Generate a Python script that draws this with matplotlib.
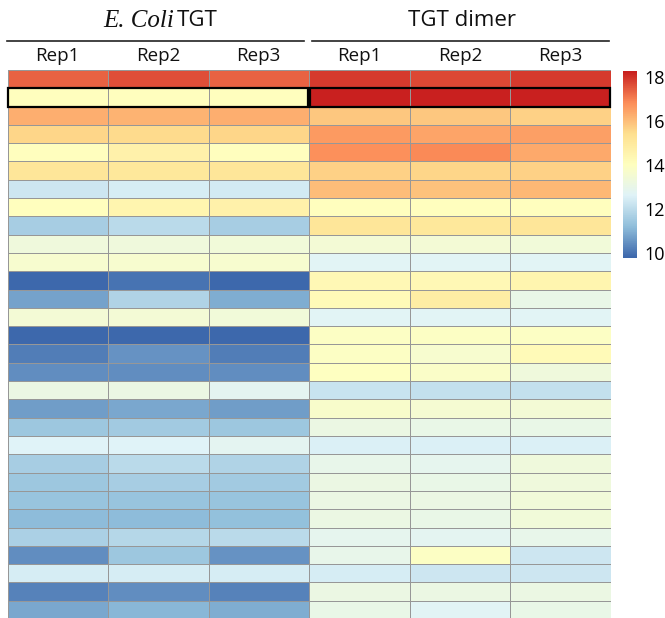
import numpy as np
import matplotlib
matplotlib.use('Agg')
import matplotlib.pyplot as plt
from matplotlib.colors import LinearSegmentedColormap
from matplotlib.patches import Rectangle
from matplotlib.lines import Line2D

plt.rcParams['font.family'] = ['Open Sans', 'DejaVu Sans']

# ── data: log2 signal per protein, three replicates each ──
reps = ['Rep1', 'Rep2', 'Rep3']
groups = ['E. Coli', 'TGT dimer']

ecoli = [
    [17.4, 17.6, 17.4],
    [14.1, 14.1, 14.1],
    [16.3, 16.2, 16.3],
    [15.6, 15.5, 15.6],
    [14.1, 14.7, 14.1],
    [15.15, 15.05, 15.15],
    [12.3, 12.45, 12.35],
    [14.1, 14.5, 14.65],
    [11.63, 11.9, 11.6],
    [13.3, 13.3, 13.35],
    [13.6, 13.6, 13.6],
    [9.8, 10.0, 9.78],
    [10.76, 11.74, 10.9],
    [13.5, 13.5, 13.4],
    [9.78, 9.85, 9.77],
    [10.17, 10.46, 10.15],
    [10.45, 10.45, 10.45],
    [13.1, 13.1, 12.8],
    [10.7, 10.85, 10.7],
    [11.45, 11.5, 11.4],
    [12.65, 12.65, 12.75],
    [11.6, 11.9, 11.75],
    [11.45, 11.6, 11.5],
    [11.3, 11.3, 11.35],
    [11.2, 11.15, 11.25],
    [11.65, 11.85, 11.9],
    [10.45, 11.45, 10.5],
    [12.45, 12.45, 12.45],
    [10.25, 10.45, 10.25],
    [10.8, 11.1, 10.9],
]

dimer = [
    [17.85, 17.75, 17.85],
    [18.27, 18.2, 18.25],
    [15.85, 15.85, 15.7],
    [16.6, 16.45, 16.5],
    [16.75, 16.9, 16.4],
    [15.7, 15.55, 15.65],
    [16.0, 15.95, 16.1],
    [14.05, 14.05, 14.05],
    [15.2, 15.1, 15.2],
    [13.5, 13.5, 13.35],
    [12.7, 12.7, 12.7],
    [14.3, 14.3, 14.5],
    [14.2, 14.85, 13.0],
    [12.7, 12.7, 12.7],
    [13.85, 13.85, 13.85],
    [13.85, 13.6, 14.2],
    [14.0, 13.8, 13.3],
    [12.17, 12.1, 12.1],
    [13.75, 13.55, 13.45],
    [13.15, 13.05, 13.05],
    [12.5, 12.5, 12.5],
    [12.95, 12.85, 13.3],
    [13.1, 13.0, 13.3],
    [13.1, 13.1, 13.4],
    [13.1, 13.0, 13.4],
    [12.85, 12.8, 12.95],
    [12.95, 13.9, 12.3],
    [12.45, 12.3, 12.3],
    [13.1, 13.1, 13.15],
    [13.0, 12.7, 13.0],
]

highlight_row = 1  # boxed protein (TGT itself)

mat = np.hstack([np.array(ecoli), np.array(dimer)])
n_rows, n_cols = mat.shape
vmin, vmax = mat.min(), mat.max()

# reversed RdYlBu ramp, 100 steps, ends a touch deeper
pal = ['#3D68AC', '#91BFDB', '#E0F3F8', '#FFFFBF', '#FEE090', '#FC8D59', '#C9201F']
cmap = LinearSegmentedColormap.from_list('rdylbu7', pal, N=100)

W, H = 665, 618
fig = plt.figure(figsize=(W / 100, H / 100), dpi=100)

def fx(px):
    return px / W

def fy(py):
    return 1 - py / H

# ── heatmap ──
left, right, top, bottom = 7.5, 610.5, 70, 619
ax = fig.add_axes([fx(left), fy(bottom), fx(right - left), (bottom - top) / H])
ax.pcolormesh(np.arange(n_cols + 1), np.arange(n_rows + 1), mat, cmap=cmap,
              vmin=vmin, vmax=vmax, edgecolors='#979797', linewidth=0.7)
ax.set_xlim(0, n_cols)
ax.set_ylim(n_rows, 0)
ax.axis('off')

for x0 in (0, 3):
    ax.add_patch(Rectangle((x0 + 0.005, highlight_row), 2.99, 1, fill=False,
                           edgecolor='black', linewidth=1.6, zorder=5, clip_on=False))

# ── column labels ──
col_w = (right - left) / n_cols
for i in range(n_cols):
    fig.text(fx(left + col_w * (i + 0.5)), fy(56), reps[i % 3],
             ha='center', va='center', fontsize=13.5, color='#111111')

# group headers with rules underneath
fig.add_artist(Line2D([fx(7), fx(304)], [fy(41), fy(41)], color='#222222', linewidth=1.2))
fig.add_artist(Line2D([fx(312), fx(609)], [fy(41), fy(41)], color='#222222', linewidth=1.2))

fig.text(fx(174), fy(21), groups[0], ha='right', va='center', fontsize=18,
         family='Liberation Serif', style='italic', color='#111111')
fig.text(fx(177), fy(20), 'TGT', ha='left', va='center', fontsize=16, color='#111111')
fig.text(fx(462), fy(20), groups[1], ha='center', va='center', fontsize=16, color='#111111')

# ── colour legend ──
cax = fig.add_axes([fx(623), fy(258), fx(14), (258 - 71) / H])
grad = np.linspace(vmin, vmax, 100).reshape(-1, 1)
cax.imshow(grad, cmap=cmap, vmin=vmin, vmax=vmax, aspect='auto', origin='lower',
           extent=[0, 1, vmin, vmax])
cax.set_xticks([])
cax.yaxis.tick_right()
cax.set_yticks([10, 12, 14, 16, 18])
cax.tick_params(axis='y', length=0, pad=5, labelsize=13)
for s in cax.spines.values():
    s.set_visible(False)

fig.savefig('out.png', dpi=100, facecolor='white')
